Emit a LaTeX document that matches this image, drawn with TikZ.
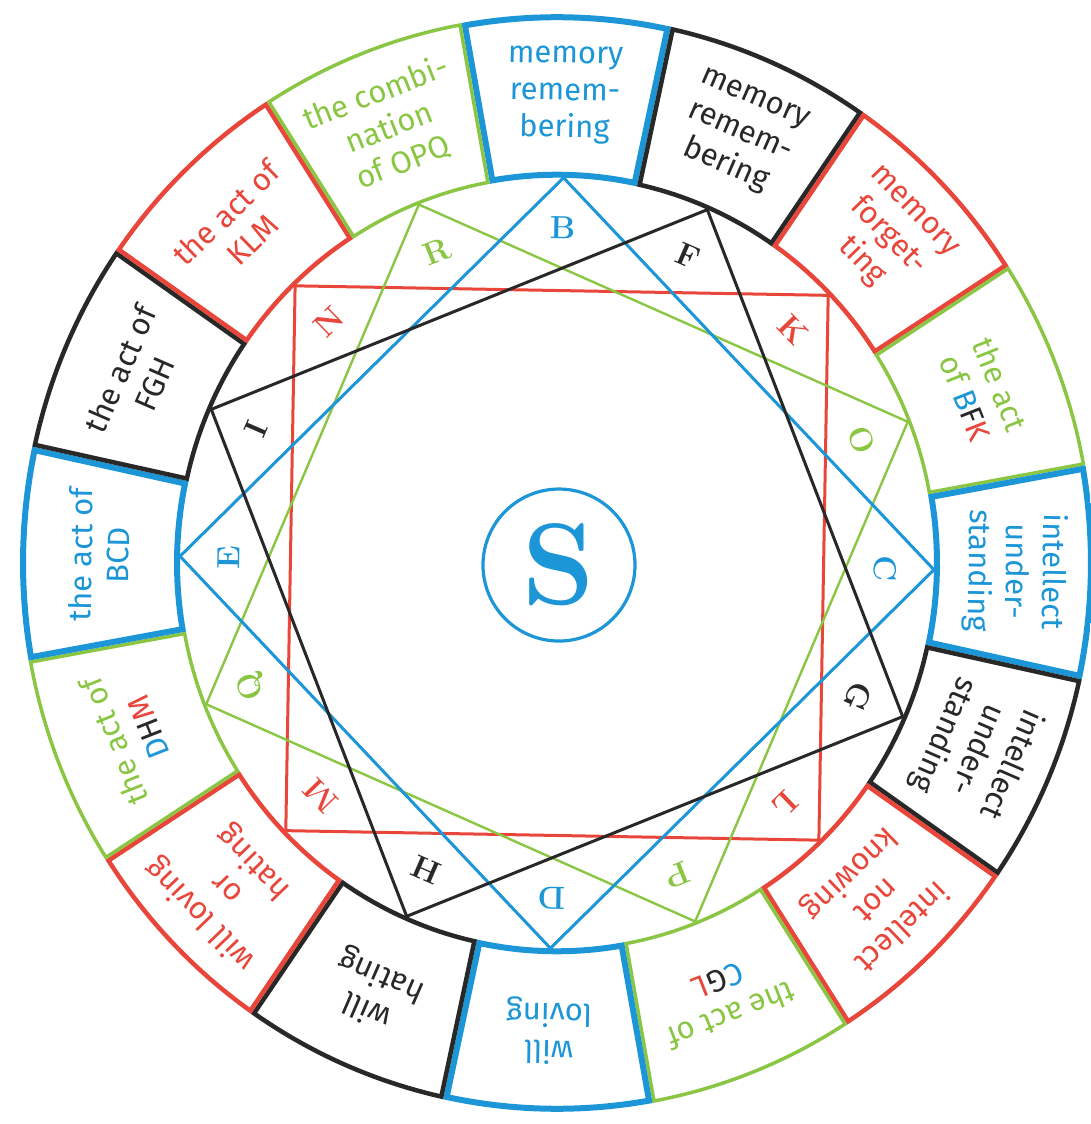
\documentclass[tikz,border=0pt]{standalone}
\usepackage{fontspec}
\newfontfamily\boxfont{Fira Sans}
\definecolor{cb}{RGB}{28,150,214}
\definecolor{cr}{RGB}{232,70,58}
\definecolor{cg}{RGB}{138,198,68}
\definecolor{ck}{RGB}{40,40,40}
\def\rot{-1}
\def\rin{377}
\def\rout{537}
\def\rmid{458}
\def\rlet{328}
\tikzset{
  boxtext/.style={font=\boxfont\fontsize{31}{37}\selectfont, align=center, inner sep=0pt},
  letter/.style={font=\fontsize{32}{32}\selectfont\bfseries, inner sep=0pt},
  sqline/.style={line join=miter},
}
\newcommand\drawsector[3]{%
  \pgfmathsetmacro\sa{#1-11.25+\rot}%
  \pgfmathsetmacro\sb{#1+11.25+\rot}%
  \begin{scope}
    \clip (\sa:\rin) -- plot[domain=\sa:\sb,samples=24] (\x:\rout) -- (\sb:\rin) -- plot[domain=\sb:\sa,samples=24] (\x:\rin) -- cycle;
    \draw[draw=#2,line width=#3,line join=miter] (\sa:\rin) -- plot[domain=\sa:\sb,samples=24] (\x:\rout) -- (\sb:\rin) -- plot[domain=\sb:\sa,samples=24] (\x:\rin) -- cycle;
  \end{scope}}
\newcommand\boxlabel[4]{%
  \pgfmathsetmacro\ta{#2+\rot}%
  \pgfmathsetmacro\tr{#2+\rot-90}%
  \node[boxtext,text=#3,rotate=\tr] (#1) at (\ta:\rmid) {#4};}
\newcommand\tiplabel[3]{%
  \pgfmathsetmacro\ta{#2+\rot}%
  \pgfmathsetmacro\tr{#2+\rot-90}%
  \coordinate (v#1) at (\ta:\rin);
  \node[letter,text=#3,rotate=\tr] (l#1) at (\ta:\rlet) {#1};}
\begin{document}
\begin{tikzpicture}[x=1pt,y=1.022pt]
\useasboundingbox (-557pt,-561pt) rectangle (534pt,563pt);
% outer ring of sixteen cells
\drawsector{90}{cb}{12pt}
\drawsector{67.5}{ck}{9pt}
\drawsector{45}{cr}{9pt}
\drawsector{22.5}{cg}{7pt}
\drawsector{0}{cb}{12pt}
\drawsector{-22.5}{ck}{9pt}
\drawsector{-45}{cr}{9pt}
\drawsector{-67.5}{cg}{7pt}
\drawsector{-90}{cb}{12pt}
\drawsector{-112.5}{ck}{9pt}
\drawsector{-135}{cr}{9pt}
\drawsector{-157.5}{cg}{7pt}
\drawsector{180}{cb}{12pt}
\drawsector{157.5}{ck}{9pt}
\drawsector{135}{cr}{9pt}
\drawsector{112.5}{cg}{7pt}
% cell texts
\boxlabel{t1}{90}{cb}{memory\\remem-\\bering}
\boxlabel{t2}{67.5}{ck}{memory\\remem-\\bering}
\boxlabel{t3}{45}{cr}{memory\\forget-\\ting}
\boxlabel{t4}{22.5}{cg}{the act\\of \textcolor{cb}{B}\textcolor{ck}{F}\textcolor{cr}{K}}
\boxlabel{t5}{0}{cb}{intellect\\under-\\standing}
\boxlabel{t6}{-22.5}{ck}{intellect\\under-\\standing}
\boxlabel{t7}{-45}{cr}{intellect\\not\\knowing}
\boxlabel{t8}{-67.5}{cg}{the act of\\\textcolor{cb}{C}\textcolor{ck}{G}\textcolor{cr}{L}}
\boxlabel{t9}{-90}{cb}{will\\loving}
\boxlabel{t10}{-112.5}{ck}{will\\hating}
\boxlabel{t11}{-135}{cr}{will loving\\or\\hating}
\boxlabel{t12}{-157.5}{cg}{the act of\\\textcolor{cb}{D}\textcolor{ck}{H}\textcolor{cr}{M}}
\boxlabel{t13}{180}{cb}{the act of\\BCD}
\boxlabel{t14}{157.5}{ck}{the act of\\FGH}
\boxlabel{t15}{135}{cr}{the act of\\KLM}
\boxlabel{t16}{112.5}{cg}{the combi-\\nation\\of OPQ}
% vertices and letters
\tiplabel{B}{90}{cb}
\tiplabel{C}{0}{cb}
\tiplabel{D}{-90}{cb}
\tiplabel{E}{180}{cb}
\tiplabel{F}{67.5}{ck}
\tiplabel{G}{-22.5}{ck}
\tiplabel{H}{-112.5}{ck}
\tiplabel{I}{157.5}{ck}
\tiplabel{K}{45}{cr}
\tiplabel{L}{-45}{cr}
\tiplabel{M}{-135}{cr}
\tiplabel{N}{135}{cr}
\tiplabel{O}{22.5}{cg}
\tiplabel{P}{-67.5}{cg}
\tiplabel{Q}{-157.5}{cg}
\tiplabel{R}{112.5}{cg}
% the four squares
\draw[sqline,cr,line width=3pt] (vK) -- (vL) -- (vM) -- (vN) -- cycle;
\draw[sqline,cg,line width=2.4pt] (vO) -- (vP) -- (vQ) -- (vR) -- cycle;
\draw[sqline,cb,line width=3pt] (vB) -- (vC) -- (vD) -- (vE) -- cycle;
\draw[sqline,ck,line width=3pt] (vF) -- (vG) -- (vH) -- (vI) -- cycle;
% centre
\node[draw=cb,circle,line width=3.2pt,minimum size=152pt,inner sep=0pt,text=cb,font=\fontsize{116}{116}\selectfont\bfseries] (S) at (2,-2) {S};
\end{tikzpicture}
\end{document}
